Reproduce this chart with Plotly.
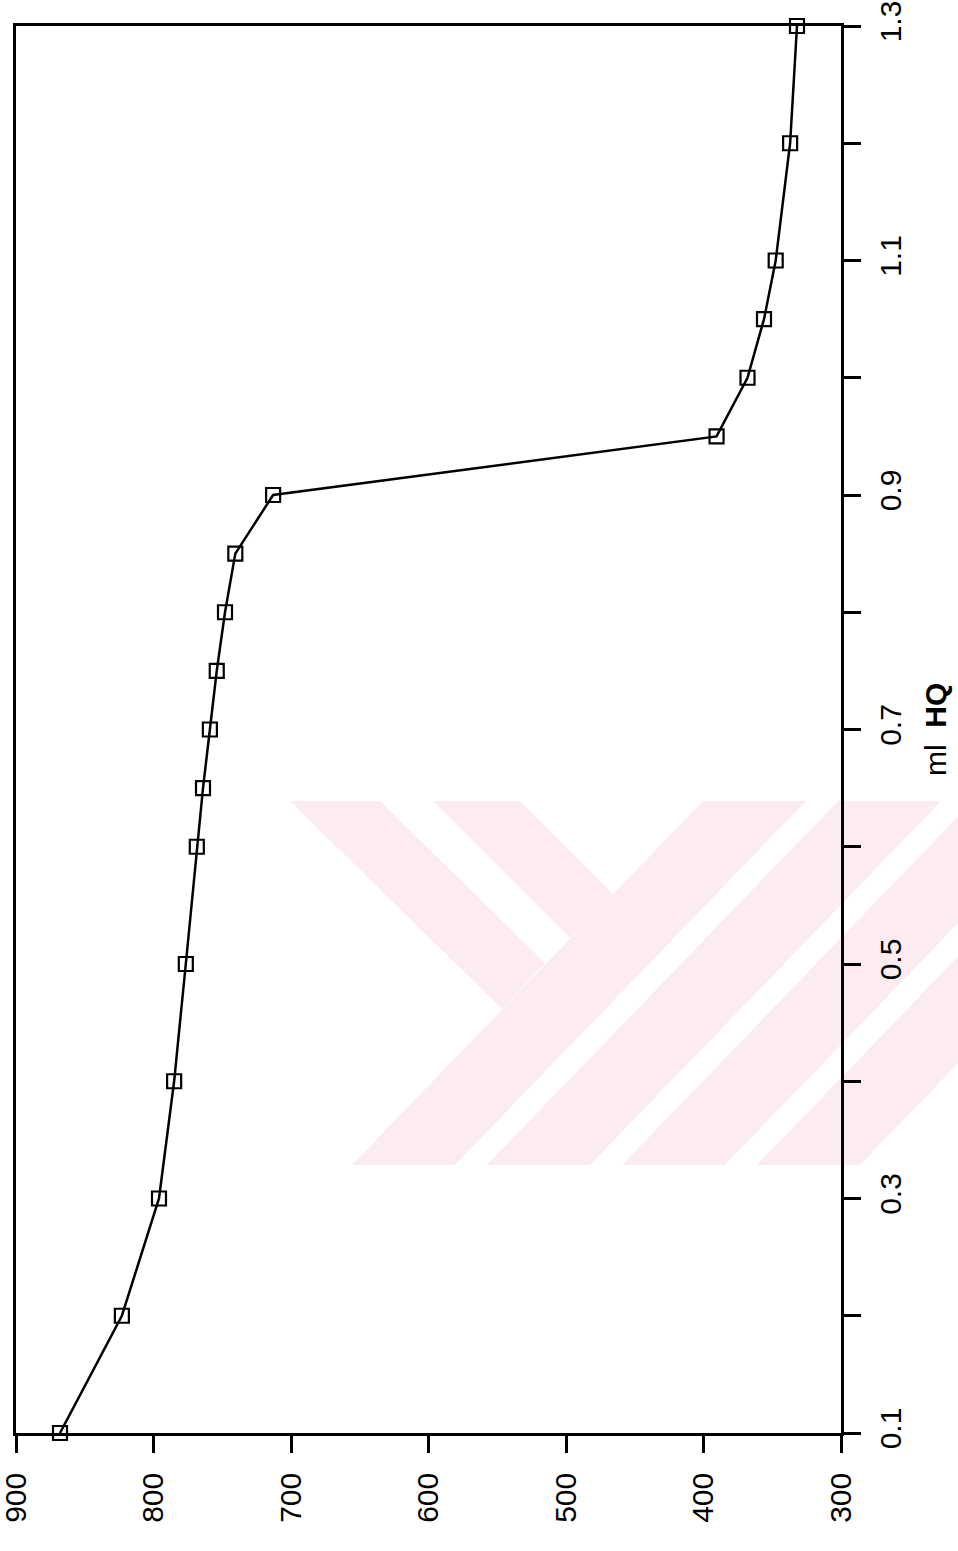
import plotly.graph_objects as go

# ---- data ----
ml_hq = [0.1, 0.2, 0.3, 0.4, 0.5, 0.6, 0.65, 0.7, 0.75, 0.8, 0.85, 0.9,
         0.95, 1.0, 1.05, 1.1, 1.2, 1.3]
potential = [868, 823, 796, 785, 776.5, 768.5, 764, 759, 754, 748, 740.5, 713,
             390.5, 368, 356, 347.5, 337, 332]

value_ticks = [900, 800, 700, 600, 500, 400, 300]
ml_ticks = [0.1, 0.2, 0.3, 0.4, 0.5, 0.6, 0.7, 0.8, 0.9, 1.0, 1.1, 1.2, 1.3]
ml_ticktext = ["0.1", "", "0.3", "", "0.5", "", "0.7", "", "0.9", "", "1.1", "", "1.3"]
axis_title = "ml  <b>HQ</b>"

W, H = 958, 1551
ML, MR, MT, MB = 16, 117, 26, 118
PW, PH = W - ML - MR, H - MT - MB
X0, Y0 = ML, MT  # screen position of plot area top-left (body margin removed)

FONT = "Liberation Sans, Arial, sans-serif"

fig = go.Figure()
fig.add_trace(go.Scatter(
    x=potential, y=ml_hq, mode="lines+markers",
    line=dict(color="black", width=2.5),
    marker=dict(symbol="square-open", size=14, color="black", line=dict(width=2.2, color="black")),
    showlegend=False, hoverinfo="x+y", cliponaxis=False,
))

# ---- faint watermark (decoration, in screen pixels) ----
def px2paper(pts):
    return [((x - X0) / PW, (Y0 + PH - y) / PH) for x, y in pts]

def path(pts):
    p = px2paper(pts)
    return "M " + " L ".join(f"{x:.5f},{y:.5f}" for x, y in p) + " Z"

wm_polys = []
top_y, bot_y, dx, sw = 801, 1165, 351, 103
for xb in [352, 487, 622, 757]:
    wm_polys.append([(xb, bot_y), (xb + sw, bot_y), (xb + sw + dx, top_y), (xb + dx, top_y)])
wm_polys.append([(290, 801), (380, 801), (545, 963), (502, 1009)])
wm_polys.append([(433, 801), (520, 801), (613, 894), (570, 938)])

shapes = [dict(type="path", xref="paper", yref="paper", path=path(p),
               fillcolor="rgb(252,236,240)", line=dict(width=0), layer="below")
          for p in wm_polys]

fig.update_layout(
    width=W, height=H,
    margin=dict(l=ML, r=MR, t=MT, b=MB, autoexpand=False),
    paper_bgcolor="white", plot_bgcolor="rgba(0,0,0,0)",
    font=dict(family=FONT, size=30, color="black"),
    shapes=shapes,
    xaxis=dict(
        range=[900, 300], tickvals=value_ticks, ticktext=[str(v) for v in value_ticks],
        ticks="outside", ticklen=17, tickwidth=2.5, tickcolor="black",
        tickangle=-90, showline=True, linewidth=2.5, linecolor="black", mirror=True,
        showgrid=False, zeroline=False, ticklabelstandoff=8, automargin=False,
        ticklabeloverflow="allow", tickfont=dict(size=30),
    ),
    yaxis=dict(
        side="right", range=[0.1, 1.3], tickvals=ml_ticks, ticktext=ml_ticktext,
        ticks="outside", ticklen=17, tickwidth=2.5, tickcolor="black",
        tickangle=-90, showline=True, linewidth=2.5, linecolor="black", mirror=True,
        showgrid=False, zeroline=False, ticklabelstandoff=4, automargin=False,
        ticklabeloverflow="allow", tickfont=dict(size=30),
    ),
    annotations=[dict(
        text=axis_title, textangle=-90, showarrow=False,
        xref="paper", yref="paper",
        x=(935 - X0) / PW, y=(Y0 + PH - 730) / PH,
        xanchor="center", yanchor="middle", font=dict(size=30),
    )],
)

fig.write_html("out.html", config={"displayModeBar": False},
               post_script="document.body.style.margin='0';")
